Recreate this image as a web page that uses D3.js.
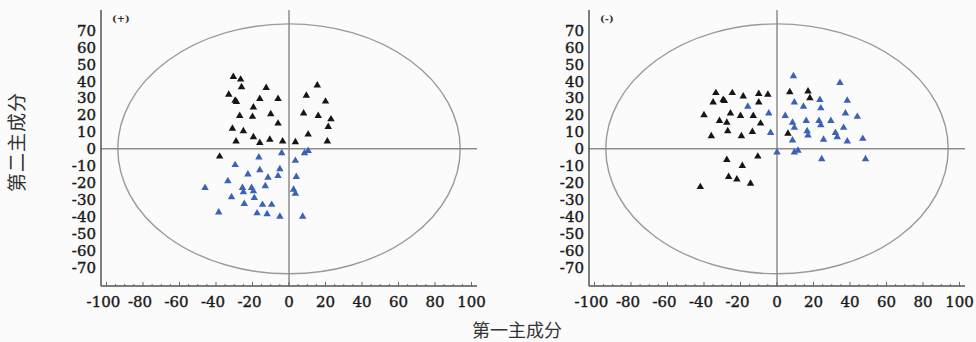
<!DOCTYPE html>
<html>
<head>
<meta charset="utf-8">
<script src="https://d3js.org/d3.v7.min.js"></script>
<style>
  body { margin: 0; background: #fbfbfb; }
  svg { display: block; }
</style>
</head>
<body>
<script>
  // PCA scores: [PC1, PC2]
  const leftBlack = [
    [-30.5, 42.5], [-26.5, 41], [-26, 36.5], [-12.5, 36], [-33, 32], [-29.5, 28.5], [-28.8, 27.8],
    [-16, 29.5], [-6, 29.5], [-19.5, 24.5], [-27, 19.5], [-20, 19], [-10, 20.5], [-6, 15],
    [-31, 12], [-25, 10.5], [-19.5, 7], [-29, 4.5], [-16, 3.5], [-10.5, 5.5], [-3.5, 4.5],
    [3.5, 4], [15.5, 37.5], [9.5, 31.5], [20, 28], [8, 21], [16, 19.5], [23, 17.5],
    [21.5, 13], [10.5, 8.5], [21, 4.5], [-38, -4.5]
  ];
  const leftBlue = [
    [-16.5, -5], [-4, -2.5], [-29.5, -9.5], [-16, -12.5], [-5, -12], [3.5, -7], [8.5, -2.5],
    [10.5, -1.2], [-22.5, -15], [-11.5, -17], [-6, -16], [4, -16.5], [-33.5, -19], [-13, -22],
    [-46, -23], [-25.5, -23], [-25, -25.5], [-20.5, -23], [-19.5, -25], [2.5, -24], [3.5, -26.5],
    [-31.5, -28.5], [-19, -29], [-24.5, -32.5], [-14.5, -33], [-9.5, -33], [-38.5, -37.5],
    [-17.5, -38], [-12, -38.5], [-5, -40], [7.5, -40]
  ];
  const rightBlack = [
    [-33.5, 33], [-24.5, 33], [-18.5, 31], [-10, 32.5], [-5, 32], [-35, 27.5], [-29.5, 29],
    [-28.8, 28.3], [-10, 27.5], [-40, 20], [-25.5, 21], [-31.5, 16.5], [-27.5, 15.5], [-20, 19.5],
    [-13, 19.5], [-9, 15], [-27, 10.5], [-36, 7.5], [-19.5, 7.5], [-13.5, 10], [-27.5, -6.5],
    [-10.5, -4.5], [-19, -10], [-26.5, -16.5], [-22, -18], [-14.5, -20.5], [-42, -22.5],
    [7, 33.5], [17, 34], [18, 30], [6, 9]
  ];
  const rightBlue = [
    [-16, 25], [-4.5, 21], [-3.5, 9.5], [0, -2], [9, 43], [34.5, 39], [9.5, 27.5], [14.5, 25],
    [23.5, 29], [24, 24], [38.5, 28.5], [4.5, 19.5], [8.5, 15.5], [9.5, 12.5], [16, 16.5],
    [23, 16.5], [24, 14], [29.5, 16.5], [37.5, 21], [44, 19], [16.5, 10.5], [17, 8], [25.5, 5.5],
    [32, 9.5], [33, 7], [36.5, 12.5], [38.5, 4.5], [47, 6], [8.5, 5], [9.5, -2], [11.5, -1],
    [24.5, -6], [48.5, -6]
  ];
  const yTicks = [70, 60, 50, 40, 30, 20, 10, 0, -10, -20, -30, -40, -50, -60, -70];
  const xTicks = [-100, -80, -60, -40, -20, 0, 20, 40, 60, 80, 100];
  const panels = [
    { label: "(+)", black: leftBlack, blue: leftBlue, x0: 101 },
    { label: "(-)", black: rightBlack, blue: rightBlue, x0: 589 }
  ];

  const width = 976, height = 342;
  const plotW = 376;
  const plotTop = 10, plotBottom = 286;
  const ellipseRx = 93.8, ellipseRy = 73.8;
  const serif = "DejaVu Serif";
  const cjk = "Noto Sans CJK SC";

  const svg = d3.select("body").append("svg")
    .attr("width", width)
    .attr("height", height);

  const y = d3.scaleLinear().domain([-81, 82]).range([plotBottom, plotTop]);
  const tri = d3.symbol().type(d3.symbolTriangle).size(24);

  panels.forEach(function(p) {
    const x = d3.scaleLinear().domain([-103, 103]).range([p.x0, p.x0 + plotW]);
    const g = svg.append("g");

    // ellipse (Hotelling T2)
    g.append("ellipse")
      .attr("cx", x(0)).attr("cy", y(0))
      .attr("rx", x(ellipseRx) - x(0))
      .attr("ry", y(0) - y(ellipseRy))
      .attr("fill", "none")
      .attr("stroke", "#9a9a9a")
      .attr("stroke-width", 1.4);

    // zero lines
    g.append("line")
      .attr("x1", x(0)).attr("x2", x(0))
      .attr("y1", plotTop).attr("y2", plotBottom)
      .attr("stroke", "#8c8c8c").attr("stroke-width", 1.5);
    g.append("line")
      .attr("x1", p.x0).attr("x2", p.x0 + plotW)
      .attr("y1", y(0)).attr("y2", y(0))
      .attr("stroke", "#8c8c8c").attr("stroke-width", 1.5);

    // axis lines
    g.append("line")
      .attr("x1", p.x0).attr("x2", p.x0)
      .attr("y1", plotTop).attr("y2", plotBottom)
      .attr("stroke", "#555").attr("stroke-width", 1.5);
    g.append("line")
      .attr("x1", p.x0).attr("x2", p.x0 + plotW)
      .attr("y1", plotBottom).attr("y2", plotBottom)
      .attr("stroke", "#555").attr("stroke-width", 1.5);

    // x ticks pointing up, minor every 5
    g.selectAll(".xminor")
      .data(d3.range(-100, 101, 5))
      .enter().append("line")
      .attr("x1", d => x(d)).attr("x2", d => x(d))
      .attr("y1", plotBottom)
      .attr("y2", d => plotBottom - (d % 20 === 0 ? 4 : 2))
      .attr("stroke", "#666").attr("stroke-width", 1);

    g.selectAll(".ylab")
      .data(yTicks)
      .enter().append("text")
      .style("font-family", serif)
      .style("font-size", "15px")
      .attr("fill", "#1a1a1a")
      .attr("stroke", "#1a1a1a")
      .attr("stroke-width", 0.4)
      .attr("x", p.x0 - 5)
      .attr("y", d => y(d))
      .attr("dy", "0.36em")
      .attr("text-anchor", "end")
      .text(d => d);

    g.selectAll(".xlab")
      .data(xTicks)
      .enter().append("text")
      .style("font-family", serif)
      .style("font-size", "15px")
      .attr("fill", "#1a1a1a")
      .attr("stroke", "#1a1a1a")
      .attr("stroke-width", 0.4)
      .attr("x", d => x(d) - (d < 0 ? 3 : 0))
      .attr("y", 307)
      .attr("text-anchor", "middle")
      .text(d => d);

    g.append("text")
      .style("font-family", serif)
      .style("font-size", "10px")
      .attr("font-weight", "bold")
      .attr("fill", "#3a3030")
      .attr("x", p.x0 + 11)
      .attr("y", 22)
      .text(p.label);

    g.selectAll(".blk")
      .data(p.black)
      .enter().append("path")
      .attr("d", tri)
      .attr("transform", d => "translate(" + x(d[0]) + "," + y(d[1]) + ")")
      .attr("fill", "#151515");

    g.selectAll(".blu")
      .data(p.blue)
      .enter().append("path")
      .attr("d", tri)
      .attr("transform", d => "translate(" + x(d[0]) + "," + y(d[1]) + ")")
      .attr("fill", "#3a62b6");
  });

  svg.append("text")
    .style("font-family", cjk)
    .style("font-size", "18px")
    .attr("fill", "#333")
    .attr("x", 517)
    .attr("y", 337)
    .attr("text-anchor", "middle")
    .text("第一主成分");

  svg.append("text")
    .style("font-family", cjk)
    .style("font-size", "19px")
    .attr("fill", "#333")
    .attr("transform", "translate(24,142) rotate(-90)")
    .attr("text-anchor", "middle")
    .attr("letter-spacing", 1)
    .text("第二主成分");
</script>
</body>
</html>
